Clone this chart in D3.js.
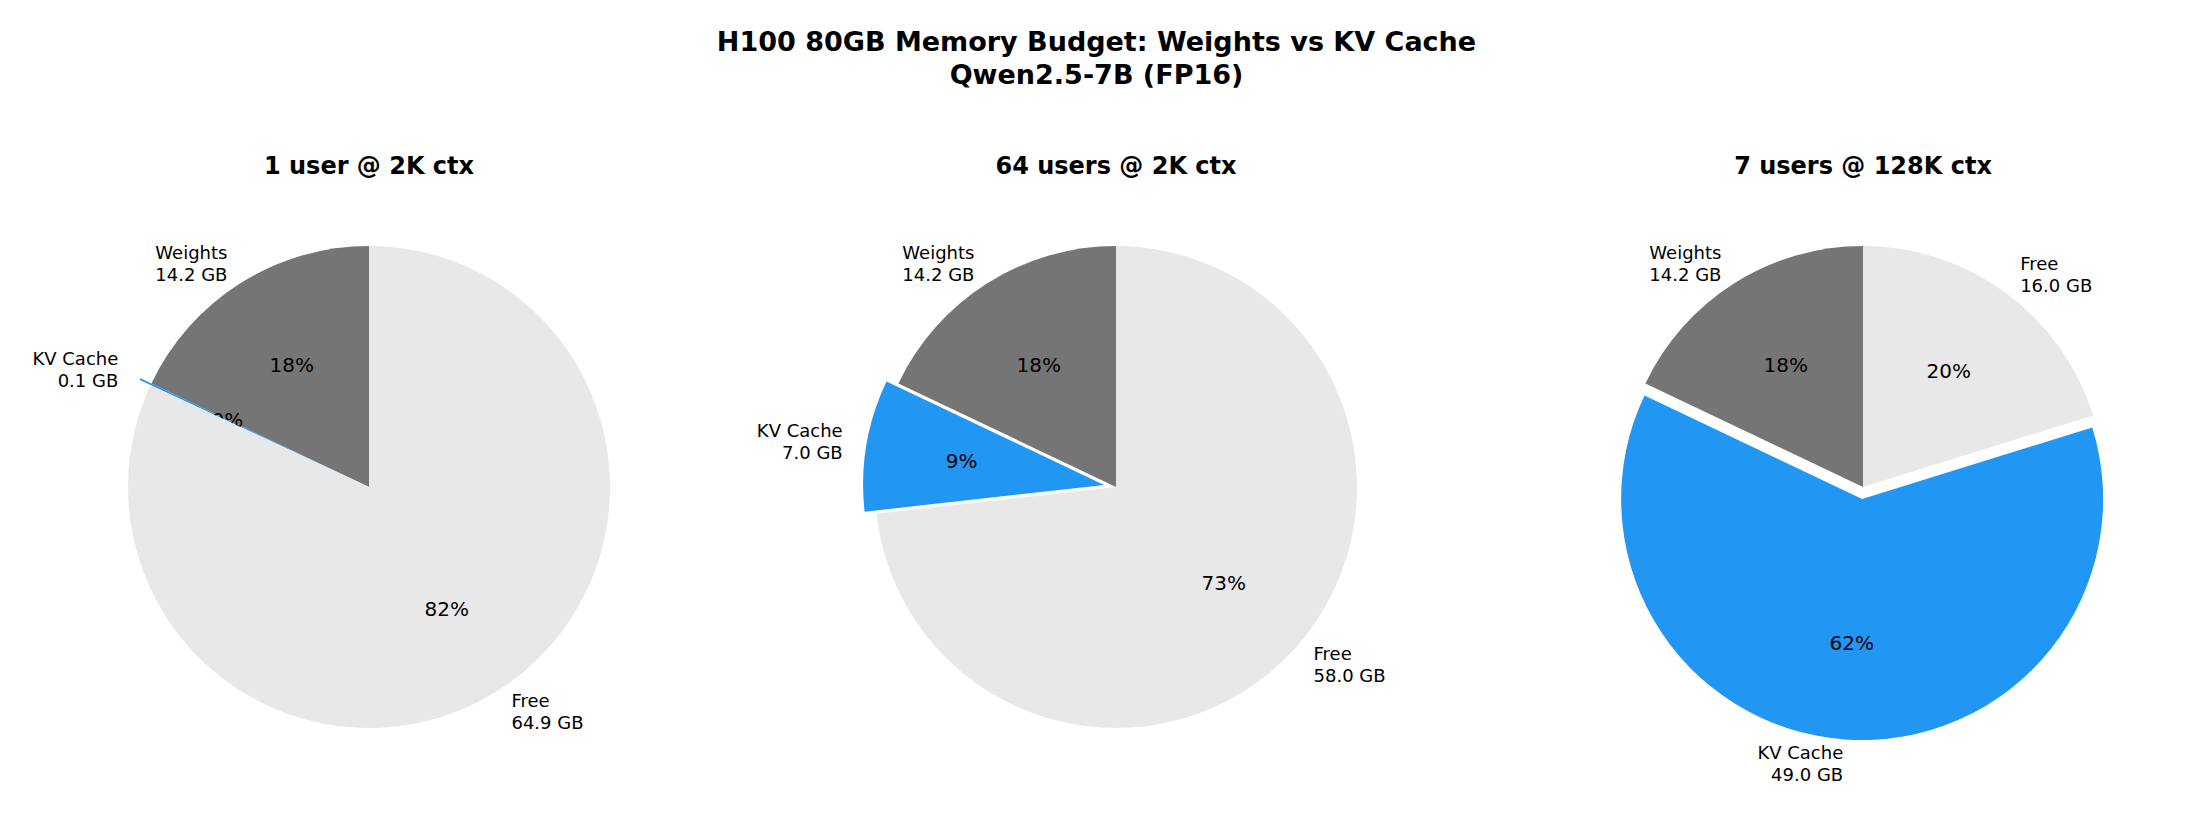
<!DOCTYPE html>
<html>
<head>
<meta charset="utf-8">
<script src="https://cdn.jsdelivr.net/npm/d3@7"></script>
<style>
  body { margin: 0; background: #fff; }
  svg { font-family: "DejaVu Sans", sans-serif; }
</style>
</head>
<body>
<svg id="chart"></svg>
<script>
const categories = ["Weights", "KV Cache", "Free"];
const colors = ["#757575", "#2196F3", "#E8E8E8"];
const panelTitles = ["1 user @ 2K ctx", "64 users @ 2K ctx", "7 users @ 128K ctx"];
const weightsGB = [14.2, 14.2, 14.2];
const kvCacheGB = [0.1, 7.0, 49.0];
const freeGB = [64.9, 58.0, 16.0];
const explode = [0, 0.05, 0];

const width = 2193, height = 818;
const radius = 241;
const centersX = [369, 1116, 1863];
const centerY = 487;

const svg = d3.select("#chart").attr("width", width).attr("height", height);

svg.append("text")
  .attr("x", width / 2).attr("y", 51)
  .attr("text-anchor", "middle")
  .style("font-size", "27px").style("font-weight", "bold")
  .text("H100 80GB Memory Budget: Weights vs KV Cache");
svg.append("text")
  .attr("x", width / 2).attr("y", 84)
  .attr("text-anchor", "middle")
  .style("font-size", "27px").style("font-weight", "bold")
  .text("Qwen2.5-7B (FP16)");

const pie = d3.pie().sort(null).startAngle(0).endAngle(-2 * Math.PI);
const arc = d3.arc().innerRadius(0).outerRadius(radius);

panelTitles.forEach((title, p) => {
  const values = [weightsGB[p], kvCacheGB[p], freeGB[p]];
  const total = d3.sum(values);
  const g = svg.append("g").attr("transform", `translate(${centersX[p]}, ${centerY})`);

  g.append("text")
    .attr("x", 0).attr("y", 165 - centerY + 9)
    .attr("text-anchor", "middle")
    .style("font-size", "24px").style("font-weight", "bold")
    .text(title);

  pie(values).forEach((d, i) => {
    const mid = (d.startAngle + d.endAngle) / 2;
    const off = explode[i] * radius;
    const dx = Math.sin(mid) * off, dy = -Math.cos(mid) * off;
    const wg = g.append("g").attr("transform", `translate(${dx}, ${dy})`);

    wg.append("path").attr("d", arc(d)).attr("fill", colors[i]);

    // percent label at 0.6 r
    wg.append("text")
      .attr("x", Math.sin(mid) * radius * 0.6)
      .attr("y", -Math.cos(mid) * radius * 0.6)
      .attr("text-anchor", "middle")
      .attr("dominant-baseline", "central")
      .style("font-size", "20px")
      .text(d3.format(".0f")(values[i] / total * 100) + "%");

    // category label at 1.1 r
    const lx = Math.sin(mid) * radius * 1.1;
    const ly = -Math.cos(mid) * radius * 1.1;
    const t = wg.append("text")
      .attr("text-anchor", lx > 0 ? "start" : "end")
      .style("font-size", "18px");
    t.append("tspan").attr("x", lx).attr("y", ly - 4).text(categories[i]);
    t.append("tspan").attr("x", lx).attr("y", ly + 18).text(d3.format(".1f")(values[i]) + " GB");
  });
});
</script>
</body>
</html>
